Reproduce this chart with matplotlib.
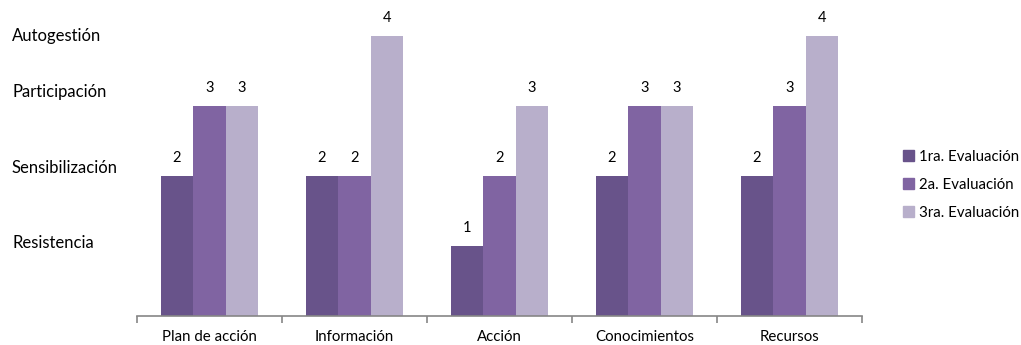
import numpy as np
import matplotlib
matplotlib.use('Agg')
from matplotlib import pyplot as plt
from matplotlib.patches import Patch

plt.rcParams['font.family'] = ['Lato', 'DejaVu Sans']

categories = ['Plan de acción', 'Información', 'Acción', 'Conocimientos', 'Recursos']
series_names = ['1ra. Evaluación', '2a. Evaluación', '3ra. Evaluación']
eval1 = [2, 2, 1, 2, 2]
eval2 = [3, 2, 2, 3, 3]
eval3 = [3, 4, 3, 3, 4]
level_names = ['Resistencia', 'Sensibilización', 'Participación', 'Autogestión']
level_y = [1.05, 2.12, 3.2, 4.0]

colors = ['#68538a', '#8064a2', '#b8afcb']

fig = plt.figure(figsize=(10.21, 3.45), dpi=100)
ax = fig.add_axes([0.1342, 0.0841, 0.7101, 0.913])

x = np.arange(len(categories))
w = 0.224
for i, vals in enumerate([eval1, eval2, eval3]):
    bars = ax.bar(x + (i - 1) * w, vals, w, color=colors[i], linewidth=0)
    ax.bar_label(bars, padding=8, fontsize=10.5)

ax.set_xlim(-0.5, len(categories) - 0.5)
ax.set_ylim(0, 4.5)
for s in ['top', 'right', 'left']:
    ax.spines[s].set_visible(False)
ax.spines['bottom'].set_color('#868686')
ax.spines['bottom'].set_linewidth(1.2)
ax.set_yticks([])
ax.set_xticks(x)
ax.set_xticklabels(categories, fontsize=10.8)
ax.tick_params(axis='x', which='major', length=0, pad=10)
ax.set_xticks(np.arange(-0.5, len(categories)), minor=True)
ax.tick_params(axis='x', which='minor', length=5, color='#868686', width=1.2)

# level names on the left, placed at the value they stand for
for name, yv in zip(level_names, level_y):
    fig.text(12 / 1021, 1 - (316 - yv * 70) / 345, name, fontsize=12, ha='left', va='center')

handles = [Patch(color=c) for c in colors]
fig.legend(handles, series_names, loc='center left', bbox_to_anchor=(0.871, 0.4638),
           frameon=False, fontsize=10.8, handlelength=0.75, handleheight=0.75,
           handletextpad=0.35, labelspacing=0.92)

fig.savefig('out.png', dpi=100)
